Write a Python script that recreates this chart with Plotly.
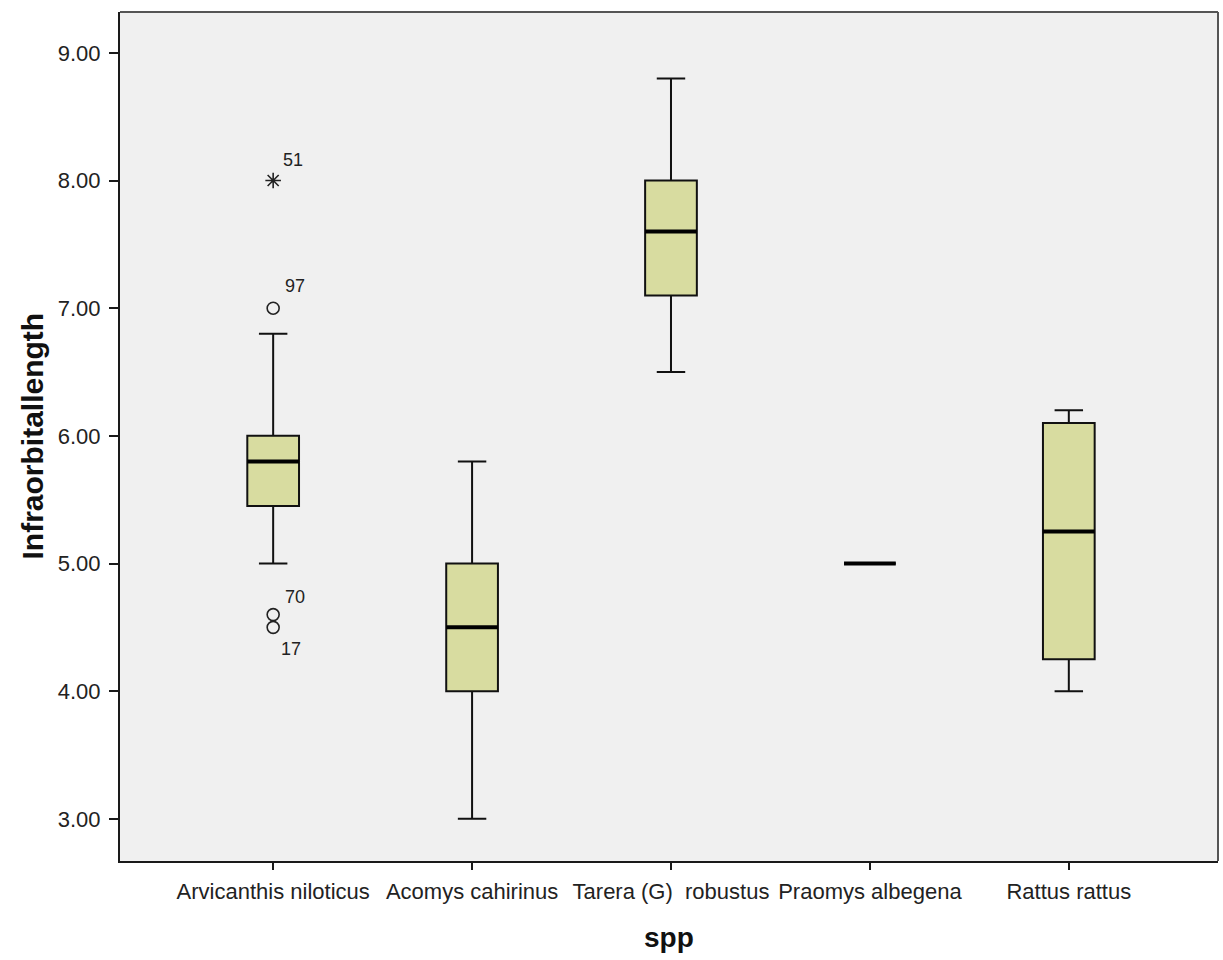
import plotly.graph_objects as go

# Species (x categories) and box statistics for Infraorbitallength
species = ["Arvicanthis niloticus", "Acomys cahirinus", "Tarera (G)  robustus",
           "Praomys albegena", "Rattus rattus"]
lower_whisker = [5.00, 3.00, 6.50, 5.00, 4.00]
q1 = [5.45, 4.00, 7.10, 5.00, 4.25]
median = [5.80, 4.50, 7.60, 5.00, 5.25]
q3 = [6.00, 5.00, 8.00, 5.00, 6.10]
upper_whisker = [6.80, 5.80, 8.80, 5.00, 6.20]

# Outlying cases (species index, value, case id, marker kind)
outlier_species = [0, 0, 0, 0]
outlier_values = [8.00, 7.00, 4.60, 4.50]
outlier_ids = ["51", "97", "70", "17"]
outlier_extreme = [True, False, False, False]

y_ticks = [3.0, 4.0, 5.0, 6.0, 7.0, 8.0, 9.0]

pos = list(range(len(species)))
box_w = 0.26
box_fill = "#d8dca0"

fig = go.Figure()

fig.add_trace(go.Box(
    x=pos, q1=q1, median=median, q3=q3,
    lowerfence=lower_whisker, upperfence=upper_whisker,
    width=box_w, whiskerwidth=0.55,
    fillcolor=box_fill, line=dict(color="#111111", width=2),
    boxpoints=False, hoverinfo="skip", showlegend=False,
))

# heavy median bars
mx, my = [], []
for p, m in zip(pos, median):
    mx += [p - box_w / 2, p + box_w / 2, None]
    my += [m, m, None]
fig.add_trace(go.Scatter(x=mx, y=my, mode="lines",
                         line=dict(color="#000000", width=4),
                         showlegend=False, hoverinfo="skip"))

# outliers: asterisk for extreme values, open circle otherwise
for kind in (True, False):
    xs = [pos[s] for s, e in zip(outlier_species, outlier_extreme) if e == kind]
    ys = [v for v, e in zip(outlier_values, outlier_extreme) if e == kind]
    fig.add_trace(go.Scatter(
        x=xs, y=ys, mode="markers",
        marker=dict(symbol="asterisk-open" if kind else "circle-open",
                    size=13 if kind else 12, color="#222222",
                    line=dict(color="#222222", width=1.6)),
        showlegend=False, hoverinfo="skip"))

# case-id labels next to the outliers
label_shift = {"51": (8, 21), "97": (10, 22), "70": (10, 18), "17": (6, -22)}
for s, v, cid in zip(outlier_species, outlier_values, outlier_ids):
    dx, dy = label_shift[cid]
    fig.add_annotation(x=pos[s], y=v, xref="x", yref="y", text=cid,
                       showarrow=False, xanchor="left", yanchor="middle",
                       xshift=dx, yshift=dy,
                       font=dict(family="Liberation Sans, Arial", size=18, color="#222222"))

x_range = [-0.77, 4.75]
y_range = [2.67, 9.32]

fig.update_layout(
    width=1223, height=960,
    margin=dict(l=120, r=5, t=12, b=99),
    paper_bgcolor="white", plot_bgcolor="#f0f0f0",
    font=dict(family="Liberation Sans, Arial", size=22, color="#222222"),
    xaxis=dict(range=x_range, tickvals=pos, ticktext=species,
               showgrid=False, zeroline=False,
               showline=True, linecolor="#1a1a1a", linewidth=2,
               ticks="outside", ticklen=7, tickwidth=1.5, tickcolor="#1a1a1a",
               ticklabelstandoff=3,
               tickfont=dict(size=22)),
    yaxis=dict(range=y_range, tickvals=y_ticks, tickformat=".2f",
               showgrid=False, zeroline=False,
               showline=True, linecolor="#1a1a1a", linewidth=2,
               ticks="outside", ticklen=9, tickwidth=2, tickcolor="#1a1a1a",
               ticklabelstandoff=4,
               tickfont=dict(size=22)),
)

# lighter top and right frame edges
fig.add_shape(type="line", xref="paper", yref="paper", x0=0, x1=1, y0=1, y1=1,
              line=dict(color="#555555", width=2))
fig.add_shape(type="line", xref="paper", yref="paper", x0=1, x1=1, y0=0, y1=1,
              line=dict(color="#555555", width=2))

# axis titles
fig.add_annotation(text="<b>spp</b>", xref="paper", yref="paper",
                   x=(669 - 120) / 1098, y=-76 / 848, showarrow=False,
                   xanchor="center", yanchor="middle",
                   font=dict(size=28, color="#111111"))
fig.add_annotation(text="<b>Infraorbitallength</b>", xref="paper", yref="paper",
                   x=-88 / 1098, y=0.5, showarrow=False, textangle=-90,
                   xanchor="center", yanchor="middle",
                   font=dict(size=30, color="#111111"))

fig.write_html("out.html")
